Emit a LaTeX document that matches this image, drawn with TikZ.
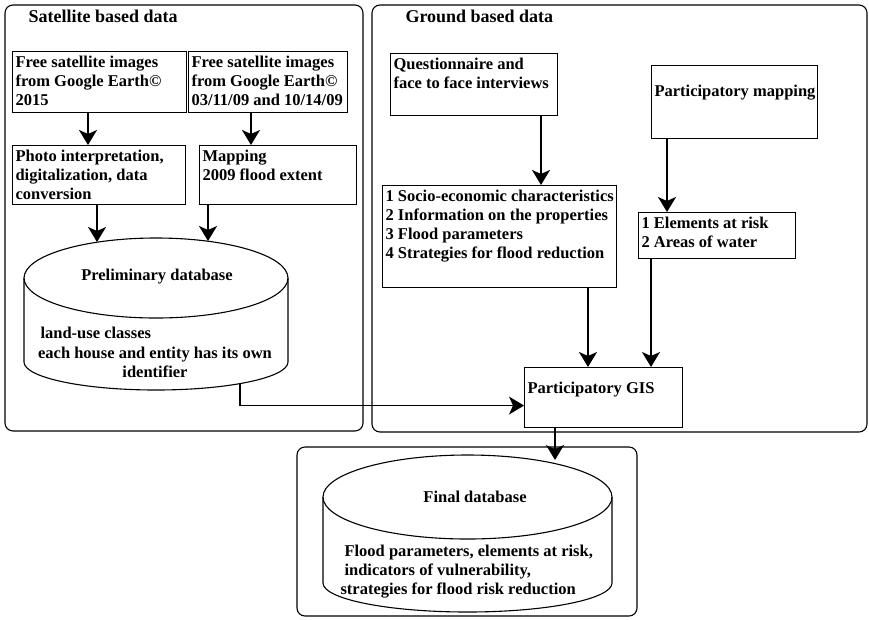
\documentclass[tikz,border=0pt]{standalone}
\usepackage{fontspec}
\setmainfont{Liberation Serif}
\usepackage{tikz}
\usetikzlibrary{arrows.meta}
\usetikzlibrary{positioning}
\newcommand{\cell}[3]{\parbox[c][#2][t]{#1}{\begin{tabular}[t]{@{}l@{}}#3\end{tabular}}}

\begin{document}
\begin{tikzpicture}[
x=1pt,y=-1pt,
every node/.style={font=\fontsize{16.5}{19}\selectfont\bfseries},
MyTitles/.style={anchor=west,font=\fontsize{18}{21}\selectfont\bfseries},
MyFrames/.style={draw,rounded corners=8pt,line width=1.1pt},
MyBoxes/.style={draw,line width=1.1pt,anchor=north west,inner sep=3pt},
MyDrums/.style={draw,line width=1.1pt},
BigArrow/.style={-{Stealth[length=15pt,width=18pt,inset=4pt]},line width=2pt},
SmallArrow/.style={-{Stealth[length=15pt,width=18pt,inset=4pt]},line width=1.3pt}
]
\useasboundingbox (0,0) rectangle (869,619);

% the three frames
\draw[MyFrames] (5,5) rectangle (363,431);
\draw[MyFrames] (372,5) rectangle (867,432);
\draw[MyFrames] (297,447) rectangle (637,616);

\node[MyTitles] (sattitle) at (25,16) {Satellite based data};
\node[MyTitles] (gndtitle) at (402,16) {Ground based data};

% satellite side
\node[MyBoxes] (fsat1) at (12,51) {\cell{168pt}{55pt}{Free satellite images\\from Google Earth©\\2015}};
\node[MyBoxes] (fsat2) at (188,51) {\cell{153pt}{55pt}{Free satellite images\\from Google Earth©\\03/11/09 and 10/14/09}};
\node[MyBoxes] (photo) at (12,145) {\cell{167pt}{53pt}{Photo interpretation,\\digitalization, data\\conversion}};
\node[MyBoxes] (mapp) at (199,145) {\cell{151pt}{53pt}{Mapping\\2009 flood extent}};

% preliminary database drum
\draw[MyDrums] (156,278) ellipse[x radius=132pt,y radius=40pt];
\draw[MyDrums] (24,278) -- (24,362) arc[start angle=180,end angle=360,x radius=132pt,y radius=28pt] -- (288,278);
\node (pdbname) at (157,277) {Preliminary database};
\node[anchor=west] (pdbland) at (37,333) {land-use classes};
\node[align=center] (pdbhouse) at (155,362) {each house and entity has its own\\identifier};
\coordinate (pdbin1) at (97,242);
\coordinate (pdbin2) at (208,241);
\coordinate (pdbout) at (240,383);

% ground side
\node[MyBoxes] (quest) at (390,53) {\cell{161pt}{56pt}{Questionnaire and\\face to face interviews}};
\node[MyBoxes] (pmap) at (651,65) {\cell{160pt}{67pt}{\\[-4pt]Participatory mapping}};
\node[MyBoxes] (socio) at (382,185) {\cell{228pt}{96pt}{1 Socio-economic characteristics\\2 Information on the properties\\3 Flood parameters\\4 Strategies for flood reduction}};
\node[MyBoxes] (elem) at (638,212) {\cell{151pt}{40pt}{1 Elements at risk\\2 Areas of water}};
\node[MyBoxes] (gis) at (524,367) {\cell{152pt}{54pt}{\\[-9pt]Participatory GIS}};

% final database drum
\draw[MyDrums] (467.5,497) ellipse[x radius=144.5pt,y radius=42pt];
\draw[MyDrums] (323,497) -- (323,583) arc[start angle=180,end angle=360,x radius=144.5pt,y radius=29pt] -- (612,497);
\node (fdbname) at (475,497) {Final database};
\node[anchor=west,align=left] (fdbtext) at (337,572) {\hspace*{4pt}Flood parameters, elements at risk,\\\hspace*{4pt}indicators of vulnerability,\\strategies for flood risk reduction};
\coordinate (fdbin) at (555,460);

% arrow columns
\coordinate (colA) at (88,0);
\coordinate (colB) at (251,0);
\coordinate (colQ) at (541,0);
\coordinate (colP) at (667,0);
\coordinate (colS) at (588,0);
\coordinate (colE) at (651,0);

\draw[BigArrow] (fsat1.south -| colA) -- (photo.north -| colA);
\draw[BigArrow] (fsat2.south -| colB) -- (mapp.north -| colB);
\draw[BigArrow] (photo.south -| pdbin1) -- (pdbin1);
\draw[BigArrow] (mapp.south -| pdbin2) -- (pdbin2);
\draw[BigArrow] (quest.south -| colQ) -- (socio.north -| colQ);
\draw[BigArrow] (pmap.south -| colP) -- (elem.north -| colP);
\draw[BigArrow] (socio.south -| colS) -- (gis.north -| colS);
\draw[SmallArrow] (elem.south -| colE) -- (gis.north -| colE);
\draw[SmallArrow] (pdbout) |- ([yshift=-8pt]gis.west);
\draw[SmallArrow] (gis.south -| fdbin) -- (fdbin);

\end{tikzpicture}
\end{document}
